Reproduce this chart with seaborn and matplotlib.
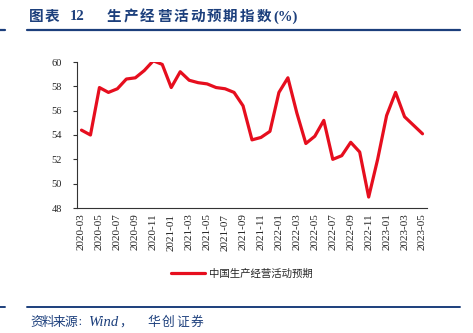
import matplotlib
matplotlib.use("Agg")
import matplotlib.pyplot as plt
from matplotlib.lines import Line2D
import seaborn as sns
import pandas as pd
import numpy as np

# ---- data ----
months = [
    "2020-03", "2020-04", "2020-05", "2020-06", "2020-07", "2020-08", "2020-09", "2020-10", "2020-11", "2020-12",
    "2021-01", "2021-02", "2021-03", "2021-04", "2021-05", "2021-06", "2021-07", "2021-08", "2021-09", "2021-10",
    "2021-11", "2021-12", "2022-01", "2022-02", "2022-03", "2022-04", "2022-05", "2022-06", "2022-07", "2022-08",
    "2022-09", "2022-10", "2022-11", "2022-12", "2023-01", "2023-02", "2023-03", "2023-04", "2023-05",
]
expectation = [
    54.4, 54.0, 57.9, 57.5, 57.8, 58.6, 58.7, 59.3, 60.1, 59.8,
    57.9, 59.2, 58.5, 58.3, 58.2, 57.9, 57.8, 57.5, 56.4, 53.6,
    53.8, 54.3, 57.5, 58.7, 55.8, 53.3, 53.9, 55.2, 52.0, 52.3,
    53.4, 52.6, 48.9, 52.0, 55.6, 57.5, 55.5, 54.8, 54.1,
]
series_name = "中国生产经营活动预期"
title_label = "图表"
title_number = "12"
title_body = "生产经营活动预期指数"
title_unit = "(%)"
source_parts = ["资料来源", "：", "Wind", "，", "华创证券"]
y_ticks = [48, 50, 52, 54, 56, 58, 60]

df = pd.DataFrame({"idx": np.arange(len(months)), "value": expectation, "series": series_name})

sns.set_theme(style="white")
plt.rcParams["font.family"] = ["Liberation Serif", "Noto Sans CJK SC", "DejaVu Sans"]

W, H = 473, 333
fig = plt.figure(figsize=(W / 100, H / 100), dpi=100)
fig.patch.set_facecolor("white")

navy = "#1c3f7c"
red = "#e60e1e"

ax = fig.add_axes([77 / W, 1 - 208 / H, 350 / W, 146 / H])
sns.lineplot(data=df, x="idx", y="value", ax=ax, color=red, linewidth=2.3, legend=False)

ax.set_xlim(-0.5, len(months) - 0.5)
ax.set_ylim(48, 60)
ax.set_yticks(y_ticks)
ax.set_yticklabels([str(v) for v in y_ticks], fontsize=7.5, family="Liberation Serif")
label_idx = list(range(0, len(months), 2))
ax.set_xticks(label_idx)
ax.set_xticklabels([months[i] for i in label_idx], rotation=90, fontsize=8, family="Liberation Serif")
ax.set_xticks([i - 0.5 for i in label_idx], minor=True)
ax.tick_params(axis="x", which="major", length=0, pad=4)
ax.tick_params(axis="x", which="minor", length=3, width=0.8, color="#333333", direction="out")
ax.tick_params(axis="y", length=3, width=0.8, color="#333333", direction="out", pad=8, left=True)
ax.set_xlabel("")
ax.set_ylabel("")
for s in ["top", "right"]:
    ax.spines[s].set_visible(False)
for s in ["left", "bottom"]:
    ax.spines[s].set_color("#333333")
    ax.spines[s].set_linewidth(0.8)
ax.grid(False)

# legend
handle = Line2D([], [], color=red, linewidth=2.3)
fig.legend([handle], [series_name], loc="center", bbox_to_anchor=(242 / W, 1 - 274 / H),
           frameon=False, handlelength=3.2, handletextpad=0.4,
           prop={"family": ["Noto Sans CJK SC"], "size": 7.5})


def spaced(text, x0, y, pitch, ha="left", **kw):
    for i, ch in enumerate(text):
        fig.text((x0 + i * pitch) / W, 1 - y / H, ch, va="center", ha=ha, **kw)


# title and rules
tkw = dict(color=navy, fontsize=10.5, fontweight="bold")
spaced(title_label, 29, 17, 15.5, **tkw)
fig.text(70 / W, 1 - 17 / H, title_number, va="center", ha="left", **tkw)
spaced(title_body, 107, 17, 16.6, **tkw)
fig.text(273 / W, 1 - 17 / H, title_unit, va="center", ha="left", **tkw)
fig.add_artist(Line2D([27 / W, 460 / W], [1 - 30 / H, 1 - 30 / H], color=navy, linewidth=1.6))
fig.add_artist(Line2D([0, 5 / W], [1 - 30 / H, 1 - 30 / H], color=navy, linewidth=1.6))
fig.add_artist(Line2D([27 / W, 460 / W], [1 - 307 / H, 1 - 307 / H], color=navy, linewidth=1.4))
fig.add_artist(Line2D([0, 5 / W], [1 - 307 / H, 1 - 307 / H], color=navy, linewidth=1.4))

skw = dict(color=navy, fontsize=9.2, style="italic")
spaced(source_parts[0], 30, 323, 11.5, **skw)
fig.text(77.8 / W, 1 - 323 / H, source_parts[1], va="center", ha="left",
         color=navy, fontsize=6.8, style="italic")
fig.text(88 / W, 1 - 323 / H, source_parts[2], va="center", ha="left",
         color=navy, fontsize=10.5, style="italic")
fig.text(119 / W, 1 - 323 / H, source_parts[3], va="center", ha="left", **skw)
spaced(source_parts[4], 147, 323, 14.5, **skw)

fig.savefig("out.png", dpi=100, facecolor="white")
